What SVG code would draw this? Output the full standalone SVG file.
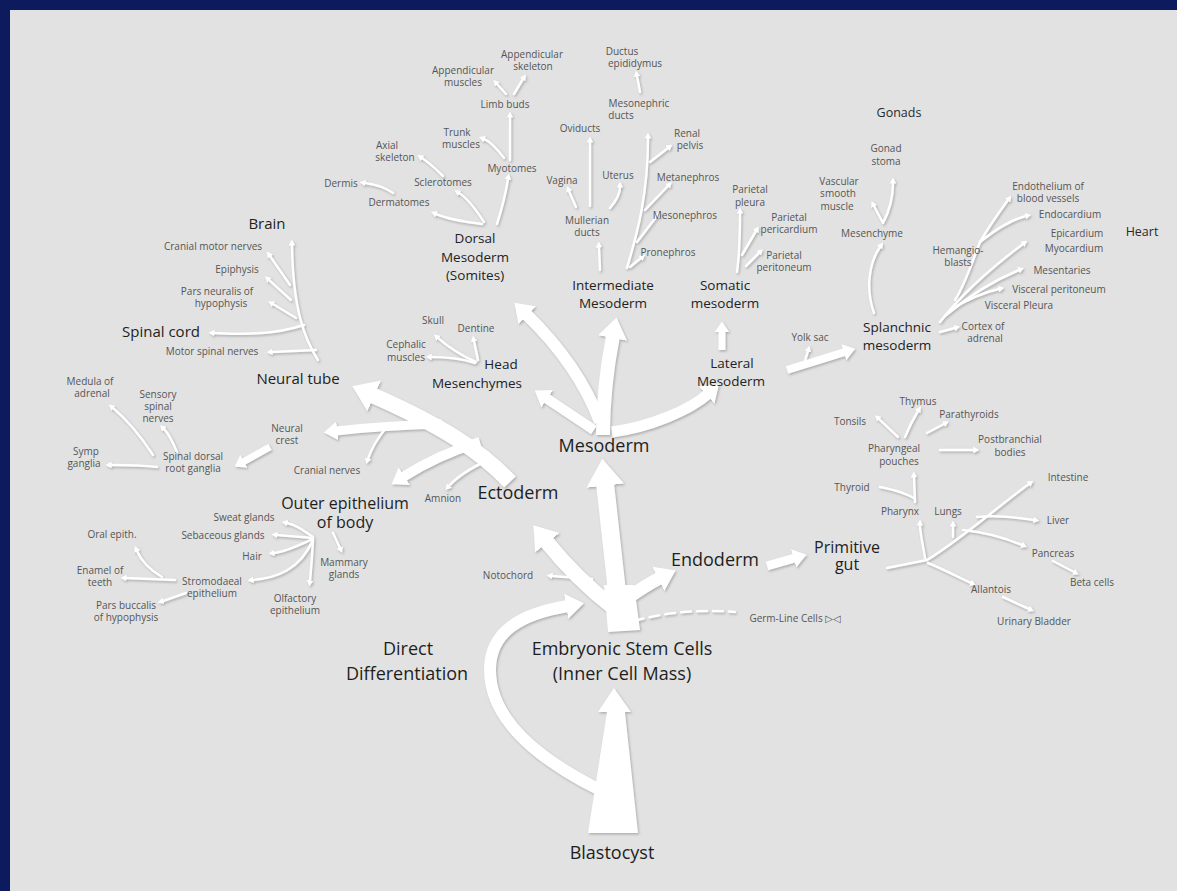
<svg xmlns="http://www.w3.org/2000/svg" width="1177" height="891" viewBox="0 0 1177 891">
<defs>
<marker id="ah" viewBox="0 0 10 10" refX="1" refY="5" markerWidth="2.4" markerHeight="2.7" preserveAspectRatio="none" orient="auto" markerUnits="strokeWidth"><path d="M0,0 L10,5 L0,10z" fill="#fff"/></marker>
<marker id="AH" viewBox="0 0 10 10" refX="1" refY="5" markerWidth="1.5" markerHeight="2.1" preserveAspectRatio="none" orient="auto" markerUnits="strokeWidth"><path d="M0,0 L10,5 L0,10z" fill="#fff"/></marker>
<filter id="sh" x="-10%" y="-10%" width="120%" height="120%"><feDropShadow dx="1.2" dy="1.5" stdDeviation="1.2" flood-color="#8a8a8a" flood-opacity="0.6"/></filter>
<style>
text{font-family:"Open Sans","Liberation Sans",sans-serif;text-anchor:middle}
.b{font-size:18px;fill:#1e1e1e}
.l{font-size:15px;fill:#1e1e1e}
.m{font-size:13.5px;fill:#222}
.g{font-size:12.5px;fill:#2a2a2a}
.s{font-size:10px;fill:#555}
.t{fill:none;stroke:#fff;stroke-linecap:round;stroke-width:2.5;marker-end:url(#ah)}
.n{fill:none;stroke:#fff;stroke-linecap:round;stroke-width:2.5}
.T{fill:none;stroke:#fff;stroke-linecap:butt;marker-end:url(#AH)}
</style>
</defs>
<rect x="0" y="0" width="1177" height="891" fill="#0d1a5e"/>
<rect x="10" y="10" width="1167" height="881" fill="#e2e2e2"/>

<g id="connectors" filter="url(#sh)">
<polygon points="588,833 638,833 625,712 631,712 614,688 598,712 607,712" fill="#fff"/>
<path class="T" d="M600,790 C540,760 490,720 490,670 C490,632 520,614 568,606" stroke-width="12"/>
<polygon points="604,585 634,585 640,630 608,632" fill="#fff"/>
<path class="T" d="M621,628 L605,483" stroke-width="18"/>
<path class="T" d="M614,608 C588,588 566,566 546,541" stroke-width="15"/>
<path class="T" d="M622,602 C636,592 648,584 660,578" stroke-width="13"/>
<path class="t" d="M592,579 L552,576" stroke-width="3"/>
<path class="n" d="M634,621 Q680,608 735,612" stroke-width="3" stroke-dasharray="10 6"/>
<path class="T" d="M767,566 L795,558" stroke-width="9"/>
<path class="T" d="M603,435 C603,392 608,362 613,336" stroke-width="14"/>
<path class="T" d="M600,422 C585,382 560,347 526,314" stroke-width="12"/>
<path class="T" d="M594,430 L546,398" stroke-width="10"/>
<path class="T" d="M612,432 C650,427 690,410 708,394" stroke-width="11"/>
<path class="T" d="M722,350 L722,331" stroke-width="7"/>
<path class="T" d="M787,370 L845,352" stroke-width="8"/>
<path class="t" d="M805,361 L808,351"/>
<path class="T" d="M510,482 C480,450 440,425 372,395" stroke-width="16"/>
<path class="T" d="M442,424 C400,425 362,428 336,431" stroke-width="9"/>
<path class="t" d="M386,428 C376,440 371,450 368,459" stroke-width="3"/>
<path class="T" d="M480,442 C447,452 422,465 403,477" stroke-width="10"/>
<path class="t" d="M488,460 C471,468 456,478 449,486" stroke-width="3.5"/>
<path class="t" d="M318,360 C305,340 293,310 292,245" stroke-width="3.5"/>
<path class="t" d="M290,285 L270,256"/>
<path class="t" d="M291,300 L269,280"/>
<path class="t" d="M296,318 L273,304"/>
<path class="t" d="M304,325 C270,336 240,334 214,333" stroke-width="3"/>
<path class="t" d="M316,350 L272,352"/>
<path class="T" d="M270,447 L243,462" stroke-width="7"/>
<path class="t" d="M153,455 C140,435 125,418 113,408"/>
<path class="t" d="M177,452 C172,440 167,432 164,429"/>
<path class="t" d="M157,467 C140,465 125,465 111,465"/>
<path class="t" d="M313,537 C300,528 295,525 287,523"/>
<path class="t" d="M313,538 L277,535"/>
<path class="t" d="M313,539 C300,545 286,552 274,553"/>
<path class="t" d="M313,540 C300,570 276,578 253,580" stroke-width="3"/>
<path class="t" d="M313,540 C312,560 311,570 310,581"/>
<path class="t" d="M333,533 L340,548"/>
<path class="t" d="M162,577 C150,570 141,560 137,551"/>
<path class="t" d="M175,580 L126,578"/>
<path class="t" d="M186,593 L163,601"/>
<path class="t" d="M475,363 C460,358 445,357 431,357"/>
<path class="t" d="M476,362 C460,355 446,345 438,338"/>
<path class="t" d="M478,360 L474,341"/>
<path class="t" d="M482,224 C465,222 450,220 436,214"/>
<path class="t" d="M484,222 C475,208 467,198 459,193"/>
<path class="t" d="M497,224 C503,205 506,192 508,179"/>
<path class="t" d="M510,160 L510,117"/>
<path class="t" d="M504,158 C495,146 489,141 484,139"/>
<path class="t" d="M443,176 C435,168 428,162 422,158"/>
<path class="t" d="M393,193 C383,186 373,184 365,183"/>
<path class="t" d="M506,94 L497,84"/>
<path class="t" d="M514,94 L523,79"/>
<path class="t" d="M600,270 L599,247" stroke-width="3.5"/>
<path class="t" d="M590,206 L590,142" stroke-width="3"/>
<path class="t" d="M576,207 L569,191"/>
<path class="t" d="M610,208 C617,200 620,194 620,187"/>
<path class="t" d="M627,268 C635,240 648,200 648,138" stroke-width="3.5"/>
<path class="t" d="M630,267 L641,258"/>
<path class="t" d="M637,242 L657,216"/>
<path class="t" d="M645,210 L668,186"/>
<path class="t" d="M650,162 L668,148"/>
<path class="t" d="M640,92 L637,76"/>
<path class="t" d="M737,272 C740,250 740,230 740,213" stroke-width="3"/>
<path class="t" d="M742,255 L756,231"/>
<path class="t" d="M746,266 L759,253"/>
<path class="t" d="M874,313 C866,290 868,265 880,247" stroke-width="3"/>
<path class="t" d="M883,223 L874,206"/>
<path class="t" d="M883,223 C890,210 893,196 893,183"/>
<path class="t" d="M940,332 L955,328"/>
<path class="t" d="M940,322 C965,290 995,265 1023,244" stroke-width="3"/>
<path class="t" d="M945,316 C970,295 995,280 1019,270"/>
<path class="t" d="M950,310 C970,298 985,292 999,289"/>
<path class="n" d="M955,300 C965,285 972,262 980,242" stroke-width="3"/>
<path class="t" d="M980,242 C990,225 1000,211 1008,200"/>
<path class="t" d="M980,242 C995,230 1010,220 1026,216"/>
<path class="n" d="M887,568 L927,560" stroke-width="4"/>
<path class="t" d="M925,558 C922,540 920,532 920,525" stroke-width="3"/>
<path class="t" d="M927,560 C960,540 1000,505 1029,484" stroke-width="3.5"/>
<path class="t" d="M953,537 L953,526"/>
<path class="t" d="M977,517 C995,515 1015,517 1034,520"/>
<path class="t" d="M963,530 C985,532 1005,538 1022,545"/>
<path class="t" d="M928,563 C945,570 960,578 971,583"/>
<path class="t" d="M1053,561 L1074,572"/>
<path class="t" d="M1003,597 L1029,609"/>
<path class="n" d="M880,487 C895,490 908,494 915,499"/>
<path class="t" d="M915,502 L914,477" stroke-width="3"/>
<path class="t" d="M898,437 L879,419"/>
<path class="t" d="M905,437 C910,425 915,416 918,411"/>
<path class="t" d="M927,433 L944,424"/>
<path class="t" d="M940,450 L974,450"/>
</g>

<g id="n-blastocyst"><text class="b" x="612" y="859">Blastocyst</text></g>
<g id="n-esc"><text class="b" x="622" y="655">Embryonic Stem Cells</text><text class="b" x="622" y="680">(Inner Cell Mass)</text></g>
<g id="n-direct"><text class="b" x="408" y="655">Direct</text><text class="b" x="407" y="680">Differentiation</text></g>
<g id="n-mesoderm"><text class="b" x="604" y="452">Mesoderm</text></g>
<g id="n-ectoderm"><text class="b" x="518" y="499">Ectoderm</text></g>
<g id="n-endoderm"><text class="b" x="715" y="566">Endoderm</text></g>
<g id="n-primgut"><text class="l" x="847" y="553" style="font-size:16px">Primitive</text><text class="l" x="847" y="570" style="font-size:16px">gut</text></g>
<g id="n-outer"><text class="l" x="345" y="509" style="font-size:16px">Outer epithelium</text><text class="l" x="345" y="528" style="font-size:16px">of body</text></g>
<g id="n-neuraltube"><text class="l" x="298" y="384">Neural tube</text></g>
<g id="n-spinalcord"><text class="l" x="161" y="337">Spinal cord</text></g>
<g id="n-brain"><text class="l" x="267" y="229">Brain</text></g>
<g id="n-dorsal"><text class="m" x="475" y="243">Dorsal</text><text class="m" x="475" y="262">Mesoderm</text><text class="m" x="475" y="280">(Somites)</text></g>
<g id="n-head"><text class="m" x="501" y="369">Head</text><text class="m" x="477" y="388">Mesenchymes</text></g>
<g id="n-intermediate"><text class="m" x="613" y="290">Intermediate</text><text class="m" x="613" y="308">Mesoderm</text></g>
<g id="n-somatic"><text class="m" x="725" y="290">Somatic</text><text class="m" x="725" y="308">mesoderm</text></g>
<g id="n-lateral"><text class="m" x="732" y="368">Lateral</text><text class="m" x="731" y="386">Mesoderm</text></g>
<g id="n-splanchnic"><text class="m" x="897" y="332">Splanchnic</text><text class="m" x="897" y="350">mesoderm</text></g>
<g id="n-gonads"><text class="g" x="899" y="117">Gonads</text></g>
<g id="n-heart"><text class="g" x="1142" y="236">Heart</text></g>

<g id="n-cmn"><text class="s" x="213" y="250">Cranial motor nerves</text></g>
<g id="n-epiphysis"><text class="s" x="237" y="273">Epiphysis</text></g>
<g id="n-parsneur"><text class="s" x="217" y="295">Pars neuralis of</text><text class="s" x="221" y="307">hypophysis</text></g>
<g id="n-msn"><text class="s" x="212" y="355">Motor spinal nerves</text></g>
<g id="n-medula"><text class="s" x="90" y="385">Medula of</text><text class="s" x="92" y="397">adrenal</text></g>
<g id="n-sensory"><text class="s" x="158" y="398">Sensory</text><text class="s" x="158" y="410">spinal</text><text class="s" x="158" y="422">nerves</text></g>
<g id="n-crest"><text class="s" x="287" y="432">Neural</text><text class="s" x="287" y="444">crest</text></g>
<g id="n-symp"><text class="s" x="86" y="455">Symp</text><text class="s" x="84" y="467">ganglia</text></g>
<g id="n-sdrg"><text class="s" x="193" y="460">Spinal dorsal</text><text class="s" x="193" y="472">root ganglia</text></g>
<g id="n-cranial"><text class="s" x="327" y="474">Cranial nerves</text></g>
<g id="n-sweat"><text class="s" x="244" y="521">Sweat glands</text></g>
<g id="n-oral"><text class="s" x="112" y="538">Oral epith.</text></g>
<g id="n-sebaceous"><text class="s" x="223" y="539">Sebaceous glands</text></g>
<g id="n-hair"><text class="s" x="252" y="560">Hair</text></g>
<g id="n-enamel"><text class="s" x="100" y="574">Enamel of</text><text class="s" x="100" y="586">teeth</text></g>
<g id="n-strom"><text class="s" x="212" y="585">Stromodaeal</text><text class="s" x="212" y="597">epithelium</text></g>
<g id="n-mammary"><text class="s" x="344" y="566">Mammary</text><text class="s" x="344" y="578">glands</text></g>
<g id="n-olfactory"><text class="s" x="295" y="602">Olfactory</text><text class="s" x="295" y="614">epithelium</text></g>
<g id="n-parsbuc"><text class="s" x="126" y="609">Pars buccalis</text><text class="s" x="126" y="621">of hypophysis</text></g>
<g id="n-amnion"><text class="s" x="443" y="502">Amnion</text></g>
<g id="n-notochord"><text class="s" x="508" y="579">Notochord</text></g>
<g id="n-germ"><text class="s" x="795" y="622" style="font-family:'Open Sans','DejaVu Sans',sans-serif">Germ-Line Cells ▷◁</text></g>
<g id="n-appsk"><text class="s" x="532" y="58">Appendicular</text><text class="s" x="533" y="70">skeleton</text></g>
<g id="n-appmu"><text class="s" x="463" y="74">Appendicular</text><text class="s" x="463" y="86">muscles</text></g>
<g id="n-limb"><text class="s" x="505" y="108">Limb buds</text></g>
<g id="n-trunk"><text class="s" x="457" y="136">Trunk</text><text class="s" x="461" y="148">muscles</text></g>
<g id="n-axial"><text class="s" x="387" y="149">Axial</text><text class="s" x="395" y="161">skeleton</text></g>
<g id="n-myotomes"><text class="s" x="512" y="172">Myotomes</text></g>
<g id="n-dermis"><text class="s" x="341" y="187">Dermis</text></g>
<g id="n-sclerotomes"><text class="s" x="443" y="186">Sclerotomes</text></g>
<g id="n-dermatomes"><text class="s" x="399" y="206">Dermatomes</text></g>
<g id="n-ductus"><text class="s" x="622" y="55">Ductus</text><text class="s" x="635" y="67">epididymus</text></g>
<g id="n-mesoducts"><text class="s" x="639" y="107">Mesonephric</text><text class="s" x="621" y="119">ducts</text></g>
<g id="n-oviducts"><text class="s" x="580" y="132">Oviducts</text></g>
<g id="n-renal"><text class="s" x="687" y="137">Renal</text><text class="s" x="690" y="149">pelvis</text></g>
<g id="n-uterus"><text class="s" x="618" y="179">Uterus</text></g>
<g id="n-vagina"><text class="s" x="562" y="184">Vagina</text></g>
<g id="n-metaneph"><text class="s" x="688" y="181">Metanephros</text></g>
<g id="n-ppleura"><text class="s" x="750" y="193">Parietal</text><text class="s" x="750" y="206">pleura</text></g>
<g id="n-mullerian"><text class="s" x="587" y="224">Mullerian</text><text class="s" x="587" y="236">ducts</text></g>
<g id="n-mesoneph"><text class="s" x="685" y="219">Mesonephros</text></g>
<g id="n-proneph"><text class="s" x="668" y="256">Pronephros</text></g>
<g id="n-ppericard"><text class="s" x="789" y="221">Parietal</text><text class="s" x="789" y="233">pericardium</text></g>
<g id="n-pperit"><text class="s" x="784" y="259">Parietal</text><text class="s" x="784" y="271">peritoneum</text></g>
<g id="n-gonadst"><text class="s" x="886" y="152">Gonad</text><text class="s" x="886" y="165">stoma</text></g>
<g id="n-vascular"><text class="s" x="839" y="185">Vascular</text><text class="s" x="838" y="197">smooth</text><text class="s" x="837" y="210">muscle</text></g>
<g id="n-mesenchyme"><text class="s" x="872" y="237">Mesenchyme</text></g>
<g id="n-endoth"><text class="s" x="1048" y="190">Endothelium of</text><text class="s" x="1048" y="202">blood vessels</text></g>
<g id="n-endocard"><text class="s" x="1070" y="218">Endocardium</text></g>
<g id="n-epicard"><text class="s" x="1077" y="237">Epicardium</text></g>
<g id="n-myocard"><text class="s" x="1074" y="252">Myocardium</text></g>
<g id="n-hemangio"><text class="s" x="958" y="254">Hemangio-</text><text class="s" x="958" y="266">blasts</text></g>
<g id="n-mesent"><text class="s" x="1062" y="274">Mesentaries</text></g>
<g id="n-vperit"><text class="s" x="1059" y="293">Visceral peritoneum</text></g>
<g id="n-vpleura"><text class="s" x="1019" y="309">Visceral Pleura</text></g>
<g id="n-yolk"><text class="s" x="810" y="341">Yolk sac</text></g>
<g id="n-cortex"><text class="s" x="983" y="330">Cortex of</text><text class="s" x="985" y="342">adrenal</text></g>
<g id="n-skull"><text class="s" x="433" y="324">Skull</text></g>
<g id="n-dentine"><text class="s" x="476" y="332">Dentine</text></g>
<g id="n-cephalic"><text class="s" x="406" y="348">Cephalic</text><text class="s" x="406" y="361">muscles</text></g>
<g id="n-thymus"><text class="s" x="918" y="405">Thymus</text></g>
<g id="n-tonsils"><text class="s" x="850" y="425">Tonsils</text></g>
<g id="n-parathy"><text class="s" x="969" y="418">Parathyroids</text></g>
<g id="n-postbr"><text class="s" x="1010" y="443">Postbranchial</text><text class="s" x="1010" y="456">bodies</text></g>
<g id="n-pouches"><text class="s" x="894" y="452">Pharyngeal</text><text class="s" x="899" y="465">pouches</text></g>
<g id="n-intestine"><text class="s" x="1068" y="481">Intestine</text></g>
<g id="n-thyroid"><text class="s" x="852" y="491">Thyroid</text></g>
<g id="n-pharynx"><text class="s" x="900" y="515">Pharynx</text></g>
<g id="n-lungs"><text class="s" x="948" y="515">Lungs</text></g>
<g id="n-liver"><text class="s" x="1058" y="524">Liver</text></g>
<g id="n-pancreas"><text class="s" x="1053" y="557">Pancreas</text></g>
<g id="n-beta"><text class="s" x="1092" y="586">Beta cells</text></g>
<g id="n-allantois"><text class="s" x="991" y="593">Allantois</text></g>
<g id="n-urinary"><text class="s" x="1034" y="625">Urinary Bladder</text></g>
</svg>
